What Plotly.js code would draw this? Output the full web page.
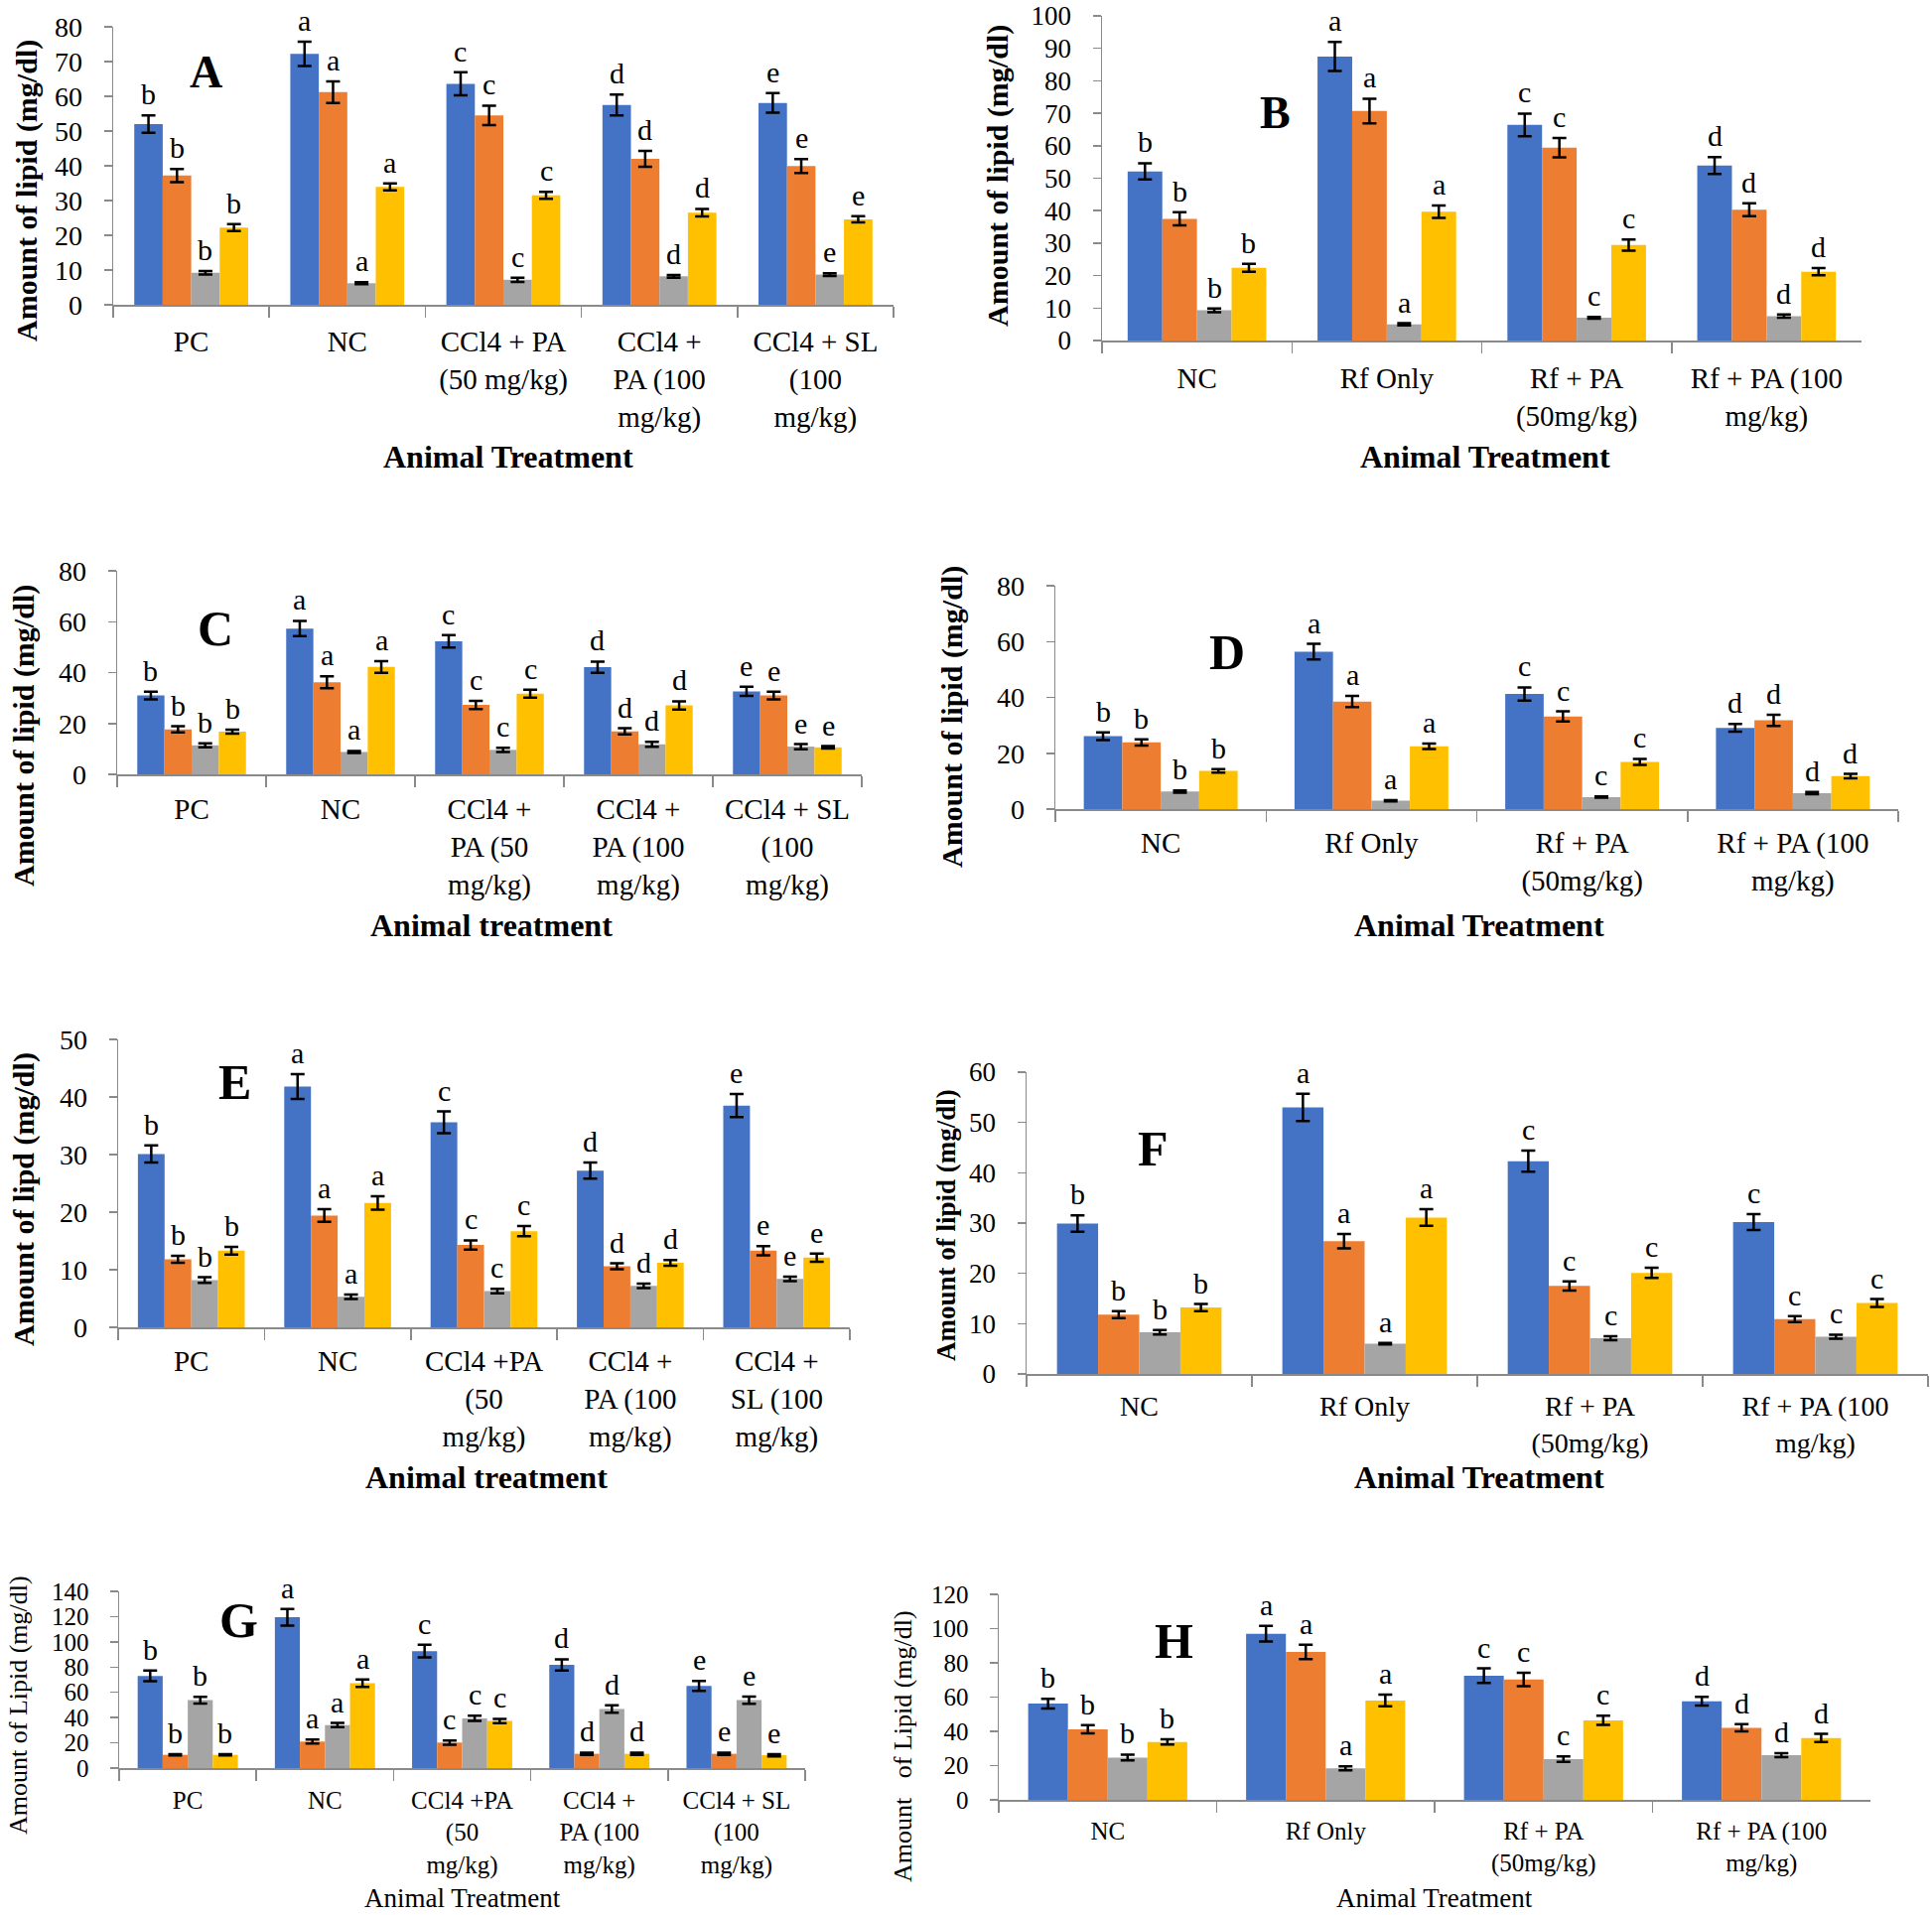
<!DOCTYPE html>
<html><head><meta charset="utf-8">
<script src="https://cdn.plot.ly/plotly-3.0.1.min.js"></script>
<style>html,body{margin:0;padding:0;background:#fff}</style>
</head><body><div id="chart" style="width:1946px;height:1929px"></div>
<script>
// ---------- data ----------
const seriesColors = ['#4472C4','#ED7D31','#A5A5A5','#FFC000'];

const catsA = ['PC','NC','CCl4 + PA<br>(50 mg/kg)','CCl4 +<br>PA (100<br>mg/kg)','CCl4 + SL<br>(100<br>mg/kg)'];
const valsA = [[52.0,72.2,63.6,57.5,58.1],[37.2,61.2,54.5,42.0,39.9],[9.2,6.2,7.2,8.2,8.7],[22.2,33.9,31.5,26.5,24.6]];
const errA  = [[2.5,3.5,3.3,3.0,2.8],[1.9,3.1,2.8,2.3,2.0],[0.5,0.3,0.6,0.4,0.4],[1.0,1.0,1.0,1.1,0.9]];
const letA  = ['b','a','c','d','e'];

const catsB = ['NC','Rf Only','Rf + PA<br>(50mg/kg)','Rf + PA (100<br>mg/kg)'];
const valsB = [[52.1,87.5,66.4,53.9],[37.5,70.7,59.4,40.3],[9.3,5.0,7.0,7.5],[22.4,39.7,29.4,21.2]];
const errB  = [[2.5,4.5,3.5,2.6],[2.0,3.8,3.0,2.0],[0.6,0.35,0.3,0.5],[1.2,1.9,1.7,1.1]];
const letB  = ['b','a','c','d'];

const catsC = ['PC','NC','CCl4 +<br>PA (50<br>mg/kg)','CCl4 +<br>PA (100<br>mg/kg)','CCl4 + SL<br>(100<br>mg/kg)'];
const valsC = [[31.0,57.3,52.3,42.1,32.6],[17.7,36.2,27.3,16.9,31.0],[11.4,8.8,9.6,11.8,10.9],[16.8,42.2,31.7,27.1,10.6]];
const errC  = [[1.5,3.0,2.4,2.2,1.8],[1.2,2.3,1.6,1.2,1.5],[0.8,0.4,0.8,1.0,1.0],[0.8,2.3,1.6,1.6,0.5]];
const letC  = ['b','a','c','d','e'];

const catsD = ['NC','Rf Only','Rf + PA<br>(50mg/kg)','Rf + PA (100<br>mg/kg)'];
const valsD = [[26.1,56.4,41.2,29.1],[23.9,38.5,33.2,31.8],[6.3,3.0,4.3,5.7],[13.7,22.5,16.9,11.8]];
const errD  = [[1.4,2.8,2.4,1.4],[1.1,2.0,1.8,2.0],[0.4,0.2,0.2,0.4],[0.65,1.0,1.1,0.8]];
const letD  = ['b','a','c','d'];

const catsE = ['PC','NC','CCl4 +PA<br>(50<br>mg/kg)','CCl4 +<br>PA (100<br>mg/kg)','CCl4 +<br>SL (100<br>mg/kg)'];
const valsE = [[30.1,41.8,35.6,27.2,38.5],[11.8,19.4,14.3,10.6,13.3],[8.2,5.3,6.3,7.2,8.4],[13.3,21.6,16.7,11.2,12.1]];
const errE  = [[1.5,2.15,1.9,1.4,2.0],[0.6,1.1,0.8,0.5,0.8],[0.5,0.4,0.4,0.4,0.4],[0.65,1.15,0.9,0.5,0.7]];
const letE  = ['b','a','c','d','e'];

const catsF = ['NC','Rf Only','Rf + PA<br>(50mg/kg)','Rf + PA (100<br>mg/kg)'];
const valsF = [[29.9,53.0,42.3,30.2],[11.8,26.4,17.5,10.9],[8.3,6.0,7.1,7.4],[13.2,31.1,20.1,14.1]];
const errF  = [[1.65,2.7,2.1,1.6],[0.7,1.45,0.9,0.6],[0.45,0.15,0.4,0.4],[0.7,1.65,1.0,0.8]];
const letF  = ['b','a','c','c'];

const catsG = ['PC','NC','CCl4 +PA<br>(50<br>mg/kg)','CCl4 +<br>PA (100<br>mg/kg)','CCl4 + SL<br>(100<br>mg/kg)'];
const valsG = [[73.0,119.5,92.7,81.7,65.1],[10.5,21.0,20.2,11.3,11.3],[53.8,34.1,39.4,46.8,53.8],[10.5,67.2,37.3,11.3,10.2]];
const errG  = [[4.2,6.6,5.0,4.5,3.9],[0.5,1.6,1.7,0.9,0.9],[2.6,1.6,2.1,2.9,2.8],[0.5,3.0,1.7,0.9,0.9]];
const letG  = ['b','a','c','d','e'];

const catsH = ['NC','Rf Only','Rf + PA<br>(50mg/kg)','Rf + PA (100<br>mg/kg)'];
const valsH = [[56.2,97.0,72.5,57.6],[41.2,86.4,70.3,42.1],[24.7,18.4,23.8,26.1],[33.8,58.0,46.4,36.1]];
const errH  = [[2.8,4.6,4.3,2.5],[2.4,4.2,3.9,2.1],[1.7,1.1,1.6,1.1],[1.5,3.4,2.7,2.4]];
const letH  = ['b','a','c','d'];

// ---------- layout config (pixel boxes: left, right, top, bottom) ----------
const W = 1946, H = 1929;
const FONT = 'Liberation Serif';
const panels = [
 {cats:catsA, vals:valsA, err:errA, let:letA, box:[114,900,27,307], range:[0,80], dtick:10, tag:'A', tagPos:[207,72], tagSize:46,
  yt:'<b>Amount of lipid (mg/dl)</b>', ytPos:[27,192], ytSize:30, xt:'<b>Animal Treatment</b>', xtPos:[512,460], xtSize:32, catSize:29, ytick:28, xstand:11},
 {cats:catsB, vals:valsB, err:errB, let:letB, box:[1110,1875,16,343], range:[0,100], dtick:10, tag:'B', tagPos:[1284,113], tagSize:46,
  yt:'<b>Amount of lipid (mg/dl)</b>', ytPos:[1005,177], ytSize:30, xt:'<b>Animal Treatment</b>', xtPos:[1496,460], xtSize:32, catSize:29, ytick:27, xstand:12},
 {cats:catsC, vals:valsC, err:errC, let:letC, box:[118,868,575,780], range:[0,80], dtick:20, tag:'C', tagPos:[217,633], tagSize:50,
  yt:'<b>Amount of lipid (mg/dl)</b>', ytPos:[24,741], ytSize:30, xt:'<b>Animal treatment</b>', xtPos:[495,932], xtSize:32, catSize:29, ytick:28, xstand:9},
 {cats:catsD, vals:valsD, err:errD, let:letD, box:[1063,1912,590,815], range:[0,80], dtick:20, tag:'D', tagPos:[1236,657], tagSize:50,
  yt:'<b>Amount of lipid (mg/dl)</b>', ytPos:[959,722], ytSize:30, xt:'<b>Animal Treatment</b>', xtPos:[1490,932], xtSize:32, catSize:29, ytick:28, xstand:8},
 {cats:catsE, vals:valsE, err:errE, let:letE, box:[119,856,1047,1337], range:[0,50], dtick:10, tag:'E', tagPos:[236,1090], tagSize:50,
  yt:'<b>Amount of lipd (mg/dl)</b>', ytPos:[24,1208], ytSize:30, xt:'<b>Animal treatment</b>', xtPos:[490,1488], xtSize:32, catSize:29, ytick:28, xstand:8},
 {cats:catsF, vals:valsF, err:errF, let:letF, box:[1034,1942,1080,1384], range:[0,60], dtick:10, tag:'F', tagPos:[1161,1157], tagSize:50,
  yt:'<b>Amount of lipid (mg/dl)</b>', ytPos:[953,1234], ytSize:27, xt:'<b>Animal Treatment</b>', xtPos:[1490,1488], xtSize:32, catSize:28, ytick:27, xstand:7},
 {cats:catsG, vals:valsG, err:errG, let:letG, box:[120,811,1603,1781], range:[0,140], dtick:20, tag:'G', tagPos:[240,1632], tagSize:50,
  yt:'Amount of Lipid (mg/dl)', ytPos:[18,1718], ytSize:26, xt:'Animal Treatment', xtPos:[466,1912], xtSize:27, catSize:25, ytick:25, xstand:9},
 {cats:catsH, vals:valsH, err:errH, let:letH, box:[1006,1884,1606,1813], range:[0,120], dtick:20, tag:'H', tagPos:[1182,1653], tagSize:50,
  yt:'Amount&nbsp;&nbsp; of Lipid (mg/dl)', ytPos:[909,1759], ytSize:26, xt:'Animal Treatment', xtPos:[1445,1912], xtSize:27, catSize:25, ytick:25, xstand:8}
];

const BARGAP = 0.27;
const data = [], annotations = [];
const layout = {
  width:W, height:H, margin:{l:0,r:0,t:0,b:0},
  paper_bgcolor:'#ffffff', plot_bgcolor:'rgba(0,0,0,0)',
  showlegend:false, barmode:'group', bargap:BARGAP, bargroupgap:0,
  font:{family:FONT, color:'#000'}
};
const LINE = '#8a8a8a';

panels.forEach((p, pi) => {
  const n = pi === 0 ? '' : String(pi + 1);
  const xa = 'x' + n, ya = 'y' + n;
  p.vals.forEach((v, k) => {
    data.push({
      type:'bar', x:p.cats, y:v, xaxis:xa, yaxis:ya,
      marker:{color:seriesColors[k], line:{width:0}},
      error_y:{type:'data', array:p.err[k], visible:true, color:'#000', thickness:2.5, width:7},
      hoverinfo:'skip'
    });
  });
  layout['xaxis' + n] = {
    domain:[p.box[0]/W, p.box[1]/W], anchor:ya, type:'category',
    showline:true, linecolor:LINE, linewidth:1.5, mirror:false,
    ticks:'outside', tickson:'boundaries', ticklen:11, tickcolor:LINE, tickwidth:1.5,
    tickangle:0, tickfont:{size:p.catSize, family:FONT, color:'#000'},
    showgrid:false, zeroline:false, ticklabelstandoff:p.xstand, fixedrange:true
  };
  layout['yaxis' + n] = {
    domain:[1 - p.box[3]/H, 1 - p.box[2]/H], anchor:xa, range:p.range,
    tick0:0, dtick:p.dtick, showline:true, linecolor:LINE, linewidth:1.5,
    ticks:'outside', ticklen:8, tickcolor:LINE, tickwidth:1.5,
    tickfont:{size:p.ytick, family:FONT, color:'#000'}, ticklabeloverflow:'allow',
    showgrid:false, zeroline:false, ticklabelstandoff:16, fixedrange:true
  };
  const w = (1 - BARGAP) / 4;
  p.vals.forEach((v, k) => v.forEach((val, i) => {
    annotations.push({
      xref:xa, yref:ya, x:i + (k - 1.5) * w, y:val + p.err[k][i],
      text:p.let[i], showarrow:false, xanchor:'center', yanchor:'bottom', yshift:3,
      font:{size:30, family:FONT, color:'#000'}
    });
  }));
  annotations.push({xref:'paper', yref:'paper', x:p.tagPos[0]/W, y:1 - p.tagPos[1]/H,
    text:'<b>' + p.tag + '</b>', showarrow:false, xanchor:'center', yanchor:'middle',
    font:{size:p.tagSize, family:FONT, color:'#000'}});
  annotations.push({xref:'paper', yref:'paper', x:p.ytPos[0]/W, y:1 - p.ytPos[1]/H,
    text:p.yt, textangle:-90, showarrow:false, xanchor:'center', yanchor:'middle',
    font:{size:p.ytSize, family:FONT, color:'#000'}});
  annotations.push({xref:'paper', yref:'paper', x:p.xtPos[0]/W, y:1 - p.xtPos[1]/H,
    text:p.xt, showarrow:false, xanchor:'center', yanchor:'middle',
    font:{size:p.xtSize, family:FONT, color:'#000'}});
});
layout.annotations = annotations;

Plotly.newPlot('chart', data, layout, {staticPlot:true, displayModeBar:false});
</script>
</body></html>
